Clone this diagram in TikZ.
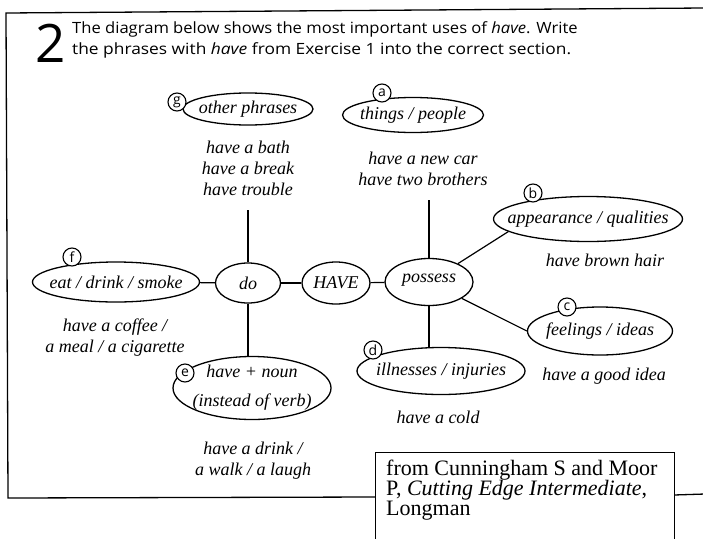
\documentclass[tikz,border=0pt]{standalone}
\usepackage{fontspec}
\setmainfont{Liberation Serif}
\newfontfamily\titlefont{Open Sans}
\newfontfamily\titlefontA[FakeStretch=1.07]{Open Sans}
\newfontfamily\titlefontB[FakeStretch=1.12]{Open Sans}
\usetikzlibrary{shapes.geometric}
\begin{document}
\begin{tikzpicture}[x=1pt,y=-1pt,
  oval/.style={draw, ellipse, line width=1.3pt, inner sep=0pt},
  lab/.style={font=\fontsize{18}{21}\selectfont\itshape, inner sep=0pt, align=center},
  note/.style={font=\fontsize{18}{21}\selectfont\itshape, inner sep=0pt, align=center},
  letter/.style={draw, circle, fill=white, line width=1.1pt, inner sep=0pt, minimum size=18pt, font=\titlefont\fontsize{14}{14}\selectfont},
  link/.style={line width=1.2pt},
  frame/.style={line width=1.3pt},
  titletxt/.style={inner sep=0pt, align=left, anchor=base west},
  citetxt/.style={font=\fontsize{22}{22}\selectfont, inner sep=0pt, anchor=base west}
]
\useasboundingbox (0,0) rectangle (703,538);
\fill[white] (0,0) rectangle (703,538);

% frame
\draw[frame] (705,8) -- (6,13) -- (8,498) -- (375,497);
\draw[frame] (674,495) -- (705,494);
\node[draw, line width=1.2pt, fill=white, minimum width=299pt, minimum height=100pt, anchor=north west, inner sep=0pt] (citebox) at (375,452) {};

% title
\node[font=\titlefont\fontsize{53}{53}\selectfont, inner sep=0pt, anchor=base] (num) at (51,62) {2};
\node[titletxt, font=\titlefontA\fontsize{15.5}{21.5}\selectfont] (t1) at (72,33) {The diagram below shows the most important uses of \textit{have}. Write};
\node[titletxt, font=\titlefontB\fontsize{15.5}{21.5}\selectfont] (t2) at (72,54.5) {the phrases with \textit{have} from Exercise 1 into the correct section.};

% ellipses
\node[oval, minimum width=130pt, minimum height=32pt] (other) at (248,109) {};
\node[oval, minimum width=141pt, minimum height=35pt] (thing) at (413,115) {};
\node[oval, minimum width=189pt, minimum height=45pt] (appear) at (588,219) {};
\node[oval, minimum width=167pt, minimum height=40pt] (eat) at (116,282) {};
\node[oval, minimum width=65pt, minimum height=40pt] (do) at (248,283) {};
\node[oval, minimum width=68pt, minimum height=42pt] (have) at (336,283) {};
\node[oval, minimum width=88pt, minimum height=47pt] (poss) at (429,282) {};
\node[oval, minimum width=145pt, minimum height=48pt] (feel) at (600,331) {};
\node[oval, minimum width=168pt, minimum height=47pt] (ill) at (441,371) {};
\node[oval, minimum width=158pt, minimum height=63pt] (noun) at (252,388) {};

% ellipse texts
\node[lab] (othertxt) at (other) {other phrases};
\node[lab] (thingtxt) at (thing) {things / people};
\node[lab] (appeartxt) at (appear) {appearance / qualities};
\node[lab] (eattxt) at (eat) {eat / drink / smoke};
\node[lab] (dotxt) at (do) {do};
\node[lab] (havetxt) at (have) {HAVE};
\node[lab] (posstxt) at ([yshift=2pt]poss.center) {possess};
\node[lab] (feeltxt) at (feel) {feelings / ideas};
\node[lab] (illtxt) at (ill) {illnesses / injuries};
\node[lab, font=\fontsize{18}{29}\selectfont\itshape] (nountxt) at (noun) {have + noun\\(instead of verb)};

% example phrases
\node[note] (otherex) at (248,168) {have a bath\\have a break\\have trouble};
\node[note] (thingex) at (423,169) {have a new car\\have two brothers};
\node[note] (appearex) at (605,260) {have brown hair};
\node[note] (eatex) at (115,338) {have a coffee /\\a meal / a cigarette};
\node[note] (feelex) at (604,376) {have a good idea};
\node[note] (illex) at (438,417) {have a cold};
\node[note] (nounex) at (253,461) {have a drink /\\a walk / a laugh};

% connectors
\coordinate (otop) at (248,210);
\coordinate (ptop) at (429,200);
\draw[link] (otop) -- (do.north);
\draw[link] (ptop) -- (poss.north);
\draw[link] (eat) -- (do);
\draw[link] (do) -- (have);
\draw[link] (have) -- (poss);
\draw[link] (do.south) -- (do.south |- noun.north);
\draw[link] (poss.south) -- (poss.south |- ill.north);
\draw[link] (poss) -- (appear.189);
\draw[link] (poss) -- (feel.west);

% letters
\node[letter] (lg) at (177,102) {g};
\node[letter] (la) at (382,93) {a};
\node[letter] (lb) at (533,193) {b};
\node[letter] (lc) at (567,307) {c};
\node[letter] (ld) at (373,350) {d};
\node[letter] (le) at (185,373) {e};
\node[letter] (lf) at (72,257) {f};

% citation
\node[citetxt] (c1) at (386,475) {from Cunningham S and Moor};
\node[citetxt] (c2) at (386,495) {P, \textit{Cutting Edge Intermediate},};
\node[citetxt] (c3) at (386,515) {Longman};
\end{tikzpicture}
\end{document}
